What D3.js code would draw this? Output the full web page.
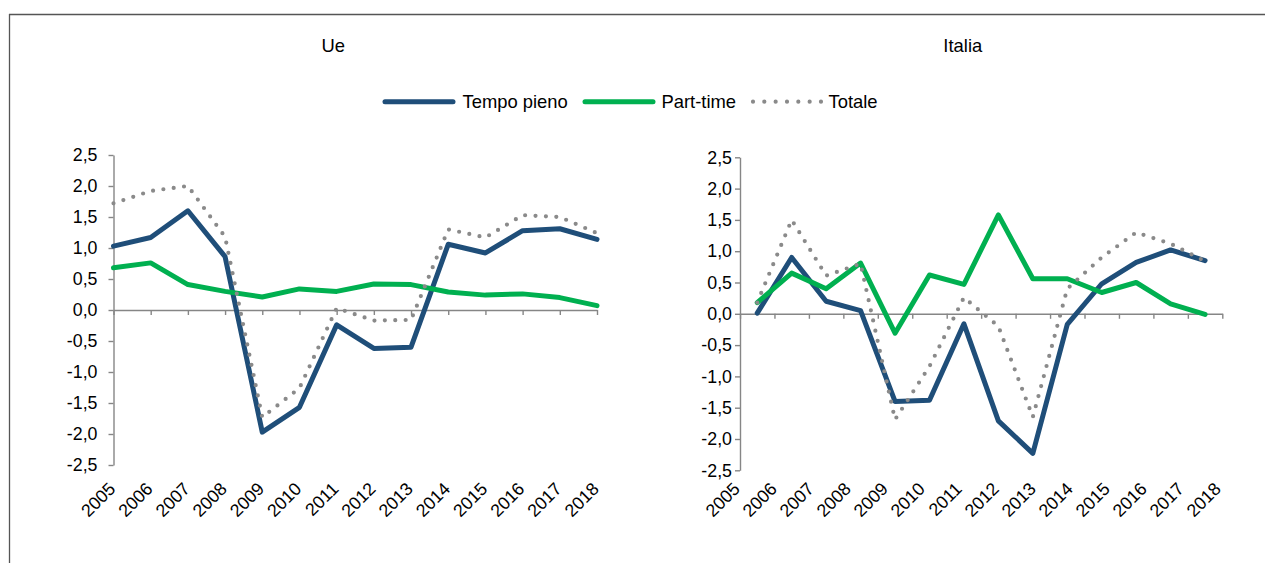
<!DOCTYPE html>
<html>
<head>
<meta charset="utf-8">
<script src="https://cdn.jsdelivr.net/npm/d3@7"></script>
<style>
  html, body { margin: 0; padding: 0; background: #fff; }
  svg { display: block; }
  text { font-family: "Liberation Sans", Arial, sans-serif; fill: #000; }
</style>
</head>
<body>
<svg id="chart" width="1265" height="563"></svg>
<script>
// ---- Data ----
const years = ["2005","2006","2007","2008","2009","2010","2011","2012","2013","2014","2015","2016","2017","2018"];
const yTicks = [-2.5, -2.0, -1.5, -1.0, -0.5, 0.0, 0.5, 1.0, 1.5, 2.0, 2.5];
const seriesNames = ["Tempo pieno", "Part-time", "Totale"];
const panelTitles = ["Ue", "Italia"];

const ueTempoPieno = [1.03, 1.17, 1.60, 0.86, -1.97, -1.57, -0.24, -0.62, -0.60, 1.06, 0.92, 1.28, 1.31, 1.14];
const uePartTime   = [0.68, 0.76, 0.41, 0.30, 0.21, 0.34, 0.30, 0.42, 0.41, 0.29, 0.24, 0.26, 0.20, 0.07];
const ueTotale     = [1.72, 1.92, 2.00, 1.18, -1.73, -1.26, 0.03, -0.17, -0.16, 1.30, 1.17, 1.53, 1.50, 1.24];

const itTempoPieno = [0.01, 0.90, 0.20, 0.05, -1.40, -1.38, -0.16, -1.71, -2.23, -0.17, 0.48, 0.82, 1.02, 0.85];
const itPartTime   = [0.18, 0.65, 0.40, 0.81, -0.31, 0.62, 0.47, 1.58, 0.56, 0.56, 0.34, 0.50, 0.16, -0.01];
const itTotale     = [0.18, 1.50, 0.61, 0.80, -1.69, -0.84, 0.26, -0.20, -1.65, 0.40, 0.90, 1.30, 1.12, 0.84];

// ---- Styles ----
const colors = ["#1F4E79", "#00B050", "#8A8A8A"];
const axisColor = "#868686";
const fontSize = 17.8;
const legendFontSize = 18.4;

const svg = d3.select("#chart");
const fmt = v => d3.format(".1f")(v).replace(".", ",").replace("−", "-");

// frame
svg.append("line").attr("x1", 9).attr("x2", 1265).attr("y1", 14.5).attr("y2", 14.5)
  .attr("stroke", "#555").attr("stroke-width", 1.3);
svg.append("line").attr("x1", 9.5).attr("x2", 9.5).attr("y1", 14).attr("y2", 563)
  .attr("stroke", "#555").attr("stroke-width", 1.3);

function styleAxis(g) {
  g.select(".domain").attr("stroke", axisColor).attr("stroke-width", 1.4);
  g.selectAll(".tick line").attr("stroke", axisColor).attr("stroke-width", 1.4);
  g.selectAll(".tick text").attr("font-size", fontSize).attr("fill", "#000")
    .attr("font-family", '"Liberation Sans", Arial, sans-serif');
}

function drawPanel(cfg) {
  const y = d3.scaleLinear().domain([-2.5, 2.5]).range([cfg.yBottom, cfg.yTop]);
  const g = svg.append("g");

  // title
  g.append("text").attr("x", cfg.titleX).attr("y", 52.3).attr("text-anchor", "middle")
    .attr("font-size", legendFontSize).text(cfg.title);

  // y axis
  const ya = g.append("g").attr("transform", `translate(${cfg.x0},0)`)
    .call(d3.axisLeft(y).tickValues(yTicks).tickFormat(fmt).tickSizeInner(5).tickSizeOuter(0).tickPadding(cfg.yPad));
  styleAxis(ya);

  // x axis (ticks only) at zero line
  const xa = g.append("g").attr("transform", `translate(0,${y(0)})`)
    .call(d3.axisBottom(cfg.tickScale).tickValues(cfg.tickValues).tickFormat("").tickSizeInner(5).tickSizeOuter(0));
  styleAxis(xa);

  // rotated year labels
  g.selectAll("text.year").data(years).enter().append("text")
    .attr("class", "year")
    .attr("font-size", fontSize)
    .attr("text-anchor", "end")
    .attr("transform", d => `translate(${cfg.labelScale(d)},490) rotate(-45)`)
    .text(d => d);

  // series
  const line = d3.line().x((d, i) => cfg.xPos(years[i])).y(d => y(d));
  cfg.series.forEach((vals, k) => {
    const p = g.append("path").datum(vals).attr("d", line)
      .attr("fill", "none").attr("stroke", colors[k]).attr("stroke-linejoin", "round");
    if (k === 2) {
      p.attr("stroke-width", 4.2).attr("stroke-linecap", "round").attr("stroke-dasharray", "0 10.4");
    } else {
      p.attr("stroke-width", 5).attr("stroke-linecap", "round");
    }
  });
}

// ---- Ue panel ----
const ueX = d3.scalePoint().domain(years).range([113.5, 597]);
drawPanel({
  title: panelTitles[0], titleX: 333.3,
  x0: 113.5, yTop: 155, yBottom: 465, yPad: 11,
  tickScale: ueX, tickValues: years,
  labelScale: d3.scalePoint().domain(years).range([116.5, 600]),
  xPos: d => ueX(d),
  series: [ueTempoPieno, uePartTime, ueTotale]
});

// ---- Italia panel ----
const itBand = d3.scaleBand().domain(years).range([740, 1222.3]);
const itTicks = d3.scaleLinear().domain([0, years.length]).range([740, 1222.3]);
drawPanel({
  title: panelTitles[1], titleX: 962.8,
  x0: 740, yTop: 157.3, yBottom: 470.3, yPad: 3,
  tickScale: itTicks, tickValues: d3.range(0, years.length + 1),
  labelScale: d3.scalePoint().domain(years).range([741, 1222]),
  xPos: d => itBand(d) + itBand.bandwidth() / 2,
  series: [itTempoPieno, itPartTime, itTotale]
});

// ---- Legend ----
const legend = svg.append("g");
const legendItems = [
  { name: seriesNames[0], x1: 385, x2: 453, tx: 462.5 },
  { name: seriesNames[1], x1: 585, x2: 653, tx: 661.5 },
  { name: seriesNames[2], x1: 753, x2: 821, tx: 828.5 }
];
legendItems.forEach((it, k) => {
  const l = legend.append("line").attr("x1", it.x1).attr("x2", it.x2)
    .attr("y1", 101.7).attr("y2", 101.7).attr("stroke", colors[k]).attr("stroke-linecap", "round");
  if (k === 2) l.attr("stroke-width", 4.2).attr("stroke-dasharray", "0 11.33");
  else l.attr("stroke-width", 5);
  legend.append("text").attr("x", it.tx).attr("y", 108.3).attr("font-size", legendFontSize).text(it.name);
});
</script>
</body>
</html>
